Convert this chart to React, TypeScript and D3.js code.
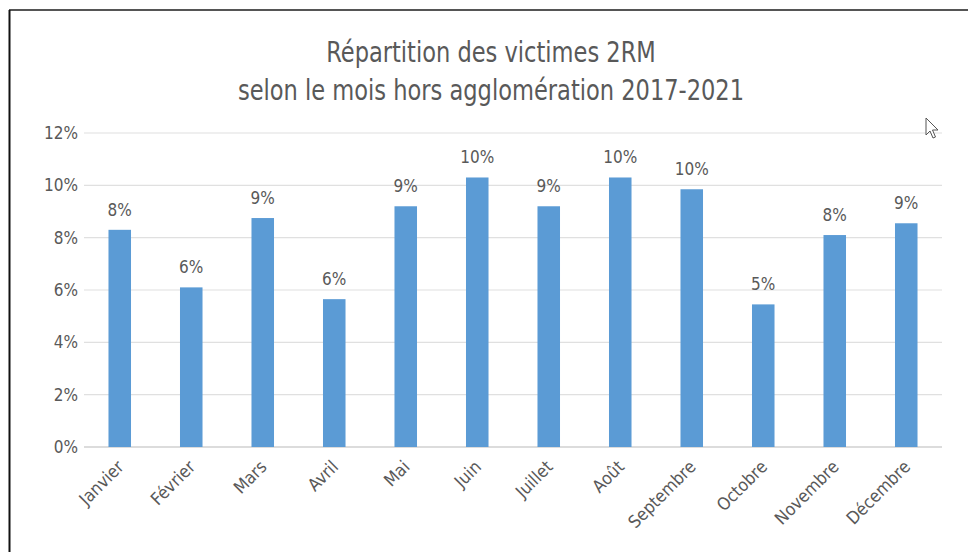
import * as d3 from "d3";
import React from "react";

const months = [
  "Janvier",
  "Février",
  "Mars",
  "Avril",
  "Mai",
  "Juin",
  "Juillet",
  "Août",
  "Septembre",
  "Octobre",
  "Novembre",
  "Décembre",
];
const shares = [8.3, 6.1, 8.75, 5.65, 9.2, 10.3, 9.2, 10.3, 9.85, 5.45, 8.1, 8.55];
const yTickValues = [0, 2, 4, 6, 8, 10, 12];
const titleLines = [
  "Répartition des victimes 2RM",
  "selon le mois hors agglomération 2017-2021",
];

const font = "'Liberation Sans Narrow', 'DejaVu Sans Condensed', 'Open Sans', sans-serif";
const textColor = "#595959";

export default function App() {
  const width = 968;
  const height = 552;
  const plot = { left: 84, right: 942, top: 133, bottom: 447 };

  const x = d3
    .scaleBand<string>()
    .domain(months)
    .range([plot.left, plot.right])
    .paddingInner(0.685)
    .paddingOuter(0.3425);

  const y = d3.scaleLinear().domain([0, 12]).range([plot.bottom, plot.top]);

  return (
    <svg
      width={width}
      height={height}
      style={{ position: "absolute", left: 0, top: 0, background: "#fff" }}
      fontFamily={font}
    >
      <rect x="0" y="0" width={width} height={height} fill="#fff" />
      {/* frame */}
      <line x1="9" y1="10" x2={width} y2="10" stroke="#555" strokeWidth="2" />
      <line x1="9.5" y1="10" x2="9.5" y2={height} stroke="#111" strokeWidth="2" />

      {/* title, squeezed a little to look like the narrow original font */}
      <g transform="translate(491,0) scale(0.895,1)" fill={textColor} fontSize="28" textAnchor="middle">
        {titleLines.map((t, i) => (
          <text key={i} x={0} y={62 + i * 38}>
            {t}
          </text>
        ))}
      </g>

      {/* grid + y ticks */}
      <g>
        {yTickValues.map((v) => (
          <g key={v}>
            <line
              x1={plot.left}
              x2={plot.right}
              y1={y(v)}
              y2={y(v)}
              stroke={v === 0 ? "#d0d0d0" : "#e0e0e0"}
              strokeWidth={v === 0 ? 1.5 : 1.2}
            />
            <text
              x={78}
              y={y(v)}
              textAnchor="end"
              dominantBaseline="central"
              fontSize="17"
              fill={textColor}
            >
              {v}%
            </text>
          </g>
        ))}
      </g>

      {/* bars */}
      <g>
        {months.map((m, i) => {
          const bx = x(m) as number;
          const cx = bx + x.bandwidth() / 2;
          return (
            <g key={m}>
              <rect
                x={bx}
                y={y(shares[i])}
                width={x.bandwidth()}
                height={plot.bottom - y(shares[i])}
                fill="#5b9bd5"
              />
              <text
                x={cx}
                y={y(shares[i]) - 14}
                textAnchor="middle"
                fontSize="17"
                fill={textColor}
              >
                {Math.round(shares[i])}%
              </text>
              <text
                transform={`translate(${cx + 5},${plot.bottom + 21}) rotate(-45)`}
                textAnchor="end"
                fontSize="17.5"
                fill={textColor}
              >
                {m}
              </text>
            </g>
          );
        })}
      </g>

      {/* mouse cursor seen in the screenshot */}
      <path
        d="M926,118 L926,135 L930,131 L933,138 L935.5,137 L932.5,130 L938,130 Z"
        fill="#fff"
        stroke="#555"
        strokeWidth="1"
      />
    </svg>
  );
}
